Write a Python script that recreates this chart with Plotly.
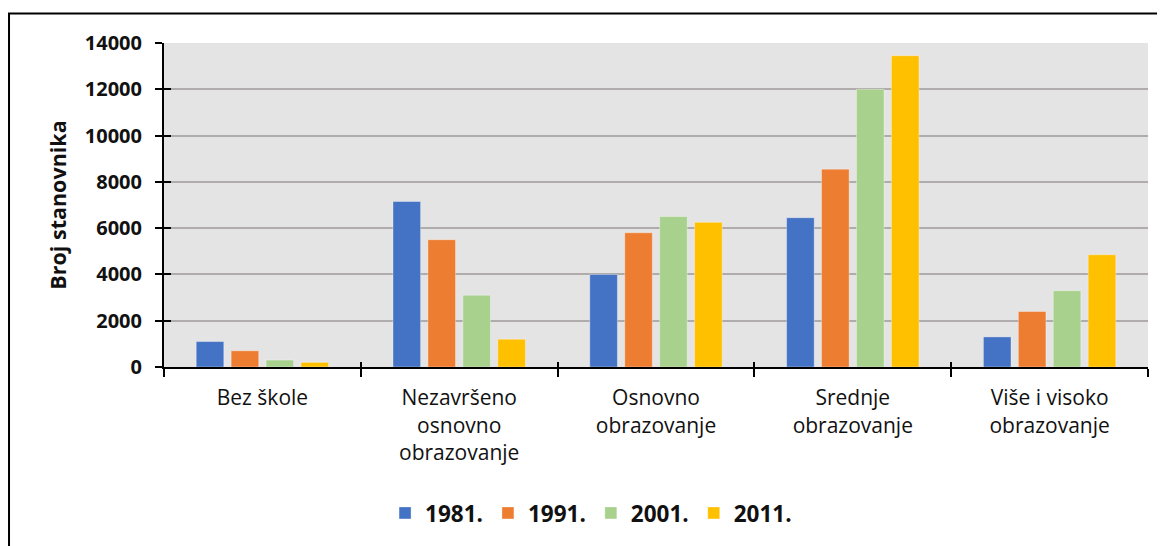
import plotly.graph_objects as go

categories = ["Bez škole", "Nezavršeno<br>osnovno<br>obrazovanje", "Osnovno<br>obrazovanje",
              "Srednje<br>obrazovanje", "Više i visoko<br>obrazovanje"]
years = ["1981.", "1991.", "2001.", "2011."]
v1981 = [1100, 7150, 4000, 6450, 1300]
v1991 = [700, 5500, 5800, 8550, 2400]
v2001 = [300, 3100, 6500, 12000, 3300]
v2011 = [200, 1200, 6250, 13450, 4850]
series = [v1981, v1991, v2001, v2011]
colors = ["#4472C4", "#ED7D31", "#A9D18E", "#FFC000"]
y_ticks = [0, 2000, 4000, 6000, 8000, 10000, 12000, 14000]

FONT = "Open Sans"

fig = go.Figure()
for name, vals, col in zip(years, series, colors):
    fig.add_trace(go.Bar(x=categories, y=vals, name=name,
                         marker=dict(color=col, line=dict(color="rgba(255,255,255,0.35)", width=1))))

fig.update_layout(
    width=1157, height=538,
    margin=dict(l=156, r=17, t=35, b=178),
    paper_bgcolor="white",
    plot_bgcolor="#E4E4E4",
    barmode="group", bargap=0.29, bargroupgap=0.21,
    font=dict(family=FONT, color="black"),
    xaxis=dict(type="category", showline=True, linecolor="black", linewidth=2,
               ticks="outside", tickson="boundaries", ticklen=8, tickwidth=2, tickcolor="black",
               tickfont=dict(family=FONT, size=21, color="#111"), showgrid=False,
               ticklabelstandoff=11),
    yaxis=dict(range=[0, 14000], tickvals=y_ticks, tickformat="d",
               showline=True, linecolor="black", linewidth=2,
               ticks="outside", ticklen=7, tickwidth=2, tickcolor="black",
               tickfont=dict(family=FONT, size=20, color="#111", weight="bold"),
               showgrid=True, gridcolor="#B0ACAC", gridwidth=2, zeroline=False,
               ticklabelstandoff=9,
               title=dict(text="<b>Broj stanovnika</b>", font=dict(family=FONT, size=21.5, color="#111"),
                          standoff=12)),
    yaxis2=dict(range=[0, 14000], overlaying="y", anchor="x", side="left", tickvals=y_ticks,
                ticks="inside", ticklen=7, tickwidth=2, tickcolor="black",
                showticklabels=False, showgrid=False, zeroline=False, showline=False),
    xaxis2=dict(range=[-0.5, 4.5], overlaying="x", anchor="y", side="bottom",
                tickvals=[-0.5, 0.5, 1.5, 2.5, 3.5, 4.5],
                ticks="inside", ticklen=5, tickwidth=2, tickcolor="black",
                showticklabels=False, showgrid=False, zeroline=False, showline=False),
    legend=dict(orientation="h", x=0.434, xanchor="center", y=-0.447, yanchor="middle",
                font=dict(family=FONT, size=22.5, color="#111", weight="bold"),
                bgcolor="rgba(0,0,0,0)"),
    shapes=[dict(type="rect", xref="paper", yref="paper", x0=-0.1575, x1=1.05, y0=-0.65, y1=1.0914,
                 line=dict(color="black", width=2), fillcolor="rgba(0,0,0,0)", layer="above")],
)
# invisible helper trace so the overlay tick axes render
fig.add_trace(go.Scatter(x=[0], y=[0], xaxis="x2", yaxis="y2", mode="markers",
                         marker=dict(opacity=0), showlegend=False, hoverinfo="skip"))

fig.write_html("out.html")
